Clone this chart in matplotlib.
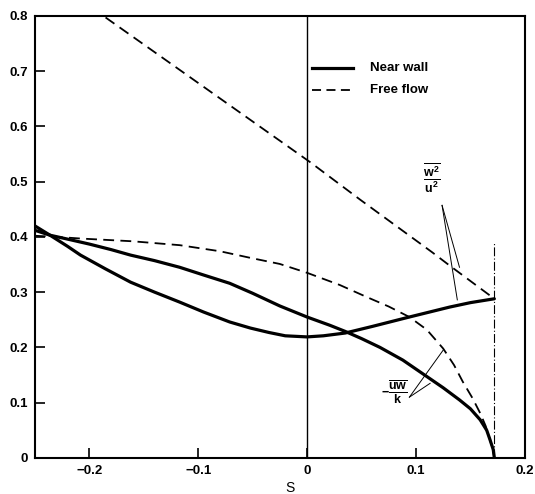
import numpy as np
import matplotlib
matplotlib.use('Agg')
from matplotlib import pyplot as plt

plt.rcParams['font.family'] = ['Liberation Sans', 'DejaVu Sans']
plt.rcParams['mathtext.fontset'] = 'custom'
plt.rcParams['mathtext.rm'] = 'Liberation Sans:bold'
plt.rcParams['mathtext.it'] = 'Liberation Sans:bold'

# near wall, -uw/k (solid)
s_uw_wall = [-0.25, -0.236, -0.22, -0.2, -0.18, -0.162, -0.14, -0.117, -0.095, -0.071,
             -0.05, -0.025, 0.0, 0.021, 0.035, 0.05, 0.067, 0.088, 0.108, 0.125,
             0.14, 0.15, 0.159, 0.165, 0.168, 0.171, 0.172]
v_uw_wall = [0.412, 0.403, 0.396, 0.387, 0.377, 0.367, 0.357, 0.345, 0.331, 0.316,
             0.298, 0.275, 0.255, 0.24, 0.229, 0.216, 0.20, 0.177, 0.15, 0.127,
             0.105, 0.089, 0.069, 0.05, 0.033, 0.015, 0.0]

# near wall, w^2/u^2 (solid)
s_w2_wall = [-0.25, -0.236, -0.22, -0.208, -0.185, -0.162, -0.14, -0.117, -0.095, -0.071,
             -0.052, -0.035, -0.02, 0.0, 0.015, 0.035, 0.06, 0.094, 0.131, 0.15, 0.172]
v_w2_wall = [0.42, 0.403, 0.383, 0.367, 0.342, 0.318, 0.30, 0.282, 0.264, 0.246,
             0.235, 0.227, 0.221, 0.219, 0.221, 0.226, 0.238, 0.255, 0.273, 0.281, 0.288]

# free flow, w^2/u^2 (dashed)
s_w2_free = [-0.185, 0.003, 0.049, 0.115, 0.131, 0.172]
v_w2_free = [0.797, 0.535, 0.467, 0.372, 0.348, 0.288]

# free flow, -uw/k (dashed)
s_uw_free = [-0.25, -0.23, -0.208, -0.16, -0.117, -0.08, -0.052, -0.025, 0.0, 0.03,
             0.055, 0.075, 0.094, 0.11, 0.125, 0.135, 0.143, 0.152, 0.159, 0.164,
             0.168, 0.171, 0.172]
v_uw_free = [0.402, 0.40, 0.397, 0.392, 0.385, 0.374, 0.362, 0.351, 0.335, 0.313,
             0.291, 0.274, 0.255, 0.232, 0.198, 0.168, 0.138, 0.108, 0.081, 0.058,
             0.033, 0.012, 0.0]

x_ticks = [-0.2, -0.1, 0.0, 0.1, 0.2]
x_labels = ['\u22120.2', '\u22120.1', '0', '0.1', '0.2']
y_ticks = [0, 0.1, 0.2, 0.3, 0.4, 0.5, 0.6, 0.7, 0.8]
y_labels = ['0', '0.1', '0.2', '0.3', '0.4', '0.5', '0.6', '0.7', '0.8']

fig = plt.figure(figsize=(5.35, 4.94), dpi=100)
ax = fig.add_axes([0.065, 0.073, 0.916, 0.895])

dash = (0, (6, 3.5))
ax.plot(s_uw_wall, v_uw_wall, 'k-', lw=2.3, solid_capstyle='round', solid_joinstyle='round')
ax.plot(s_w2_wall, v_w2_wall, 'k-', lw=2.3, solid_capstyle='round', solid_joinstyle='round')
ax.plot(s_w2_free, v_w2_free, color='k', ls=dash, lw=1.3)
ax.plot(s_uw_free, v_uw_free, color='k', ls=dash, lw=1.3)

ax.axvline(0, color='k', lw=1.0)
ax.plot([0.172, 0.172], [0, 0.39], color='k', lw=0.8, ls=(0, (8, 2, 1, 2)))

# legend
ax.plot([0.005, 0.042], [0.705, 0.705], 'k-', lw=2.3)
ax.plot([0.005, 0.042], [0.665, 0.665], color='k', ls=(0, (5, 3)), lw=1.3)
ax.text(0.058, 0.705, 'Near wall', fontsize=9.5, fontweight='bold', va='center')
ax.text(0.058, 0.665, 'Free flow', fontsize=9.5, fontweight='bold', va='center')

# annotations
ax.text(0.115, 0.506, r'$\dfrac{\overline{w^2}}{u^2}$', fontsize=9, ha='center', va='center')
ax.plot([0.124, 0.140], [0.457, 0.345], 'k-', lw=0.7)
ax.plot([0.124, 0.138], [0.457, 0.286], 'k-', lw=0.7)

ax.text(0.08, 0.12, r'$-\dfrac{\overline{uw}}{k}$', fontsize=9, ha='center', va='center')
ax.plot([0.094, 0.113], [0.11, 0.135], 'k-', lw=0.7)
ax.plot([0.094, 0.125], [0.11, 0.195], 'k-', lw=0.7)

ax.set_xlim(-0.25, 0.2)
ax.set_ylim(0, 0.8)
ax.set_xticks(x_ticks)
ax.set_xticklabels(x_labels)
ax.set_yticks(y_ticks)
ax.set_yticklabels(y_labels)
ax.tick_params(direction='in', length=7, width=1.2, labelsize=9.5, pad=5)
for lab in ax.get_xticklabels() + ax.get_yticklabels():
    lab.set_fontweight('bold')
for sp in ax.spines.values():
    sp.set_linewidth(1.5)
ax.set_xlabel('S', fontsize=10)
ax.xaxis.set_label_coords(0.52, -0.052)

plt.savefig('out.png', dpi=100)
